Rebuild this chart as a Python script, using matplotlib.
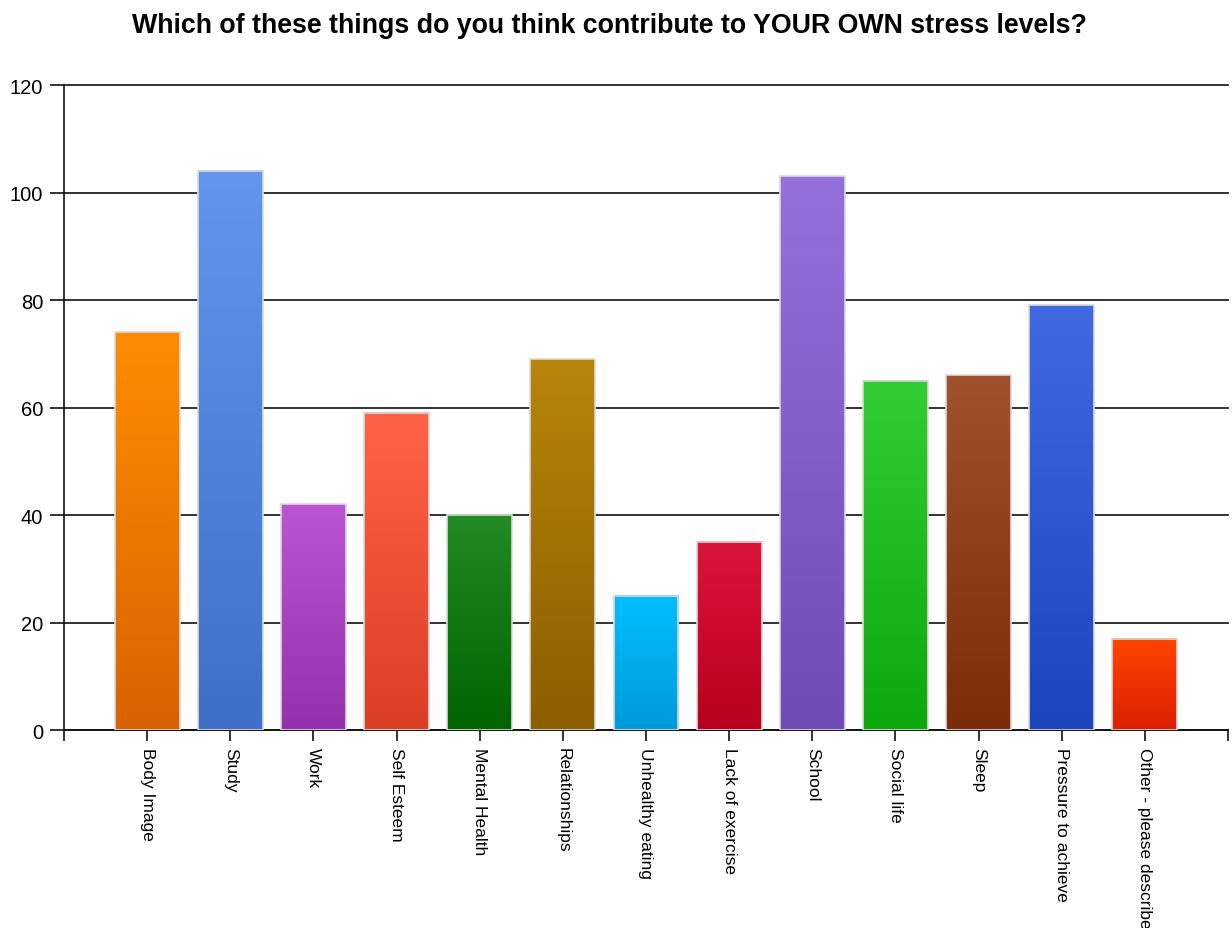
import numpy as np
import matplotlib.pyplot as plt
from matplotlib.colors import to_rgb

categories = ['Body Image', 'Study', 'Work', 'Self Esteem', 'Mental Health',
              'Relationships', 'Unhealthy eating', 'Lack of exercise', 'School',
              'Social life', 'Sleep', 'Pressure to achieve', 'Other - please describe']
values = [74, 104, 42, 59, 40, 69, 25, 35, 103, 65, 66, 79, 17]
top_colors = ['#FF8C00', '#6495ED', '#BA55D3', '#FF6347', '#228B22', '#B8860B',
              '#00BFFF', '#DC143C', '#9370DB', '#32CD32', '#A0522D', '#4169E1', '#FF4500']
bottom_colors = ['#D96200', '#3F6FC6', '#9530AE', '#D94025', '#006400', '#8B5E00',
                 '#009AD9', '#B8001E', '#6E4BB5', '#0DA80D', '#7A2D08', '#1C44BC', '#DA2000']
title = 'Which of these things do you think contribute to YOUR OWN stress levels?'

plt.rcParams['font.family'] = ['Liberation Sans', 'DejaVu Sans']

fig = plt.figure(figsize=(12.32, 9.29), dpi=100)
ax = fig.add_axes([0.0519, 0.2131, 0.9449, 0.6943])

x = np.arange(1, len(categories) + 1)
width = 0.78

# vertical gradient per bar, darker at the bottom
for xi, v, ct, cb in zip(x, values, top_colors, bottom_colors):
    grad = np.linspace(0, 1, 100)[:, None]
    c0 = np.array(to_rgb(cb))
    c1 = np.array(to_rgb(ct))
    img = (c0 + (c1 - c0) * grad)[:, None, :]
    ax.imshow(img, extent=[xi - width / 2, xi + width / 2, 0, v], origin='lower',
              aspect='auto', zorder=3, interpolation='bilinear')

ax.bar(x, values, width=width, fill=False, edgecolor='#DADADA', linewidth=1.2, zorder=4)

ax.set_xlim(0, len(categories) + 1)
ax.set_ylim(0, 120)
ax.set_yticks(range(0, 121, 20))
ax.yaxis.grid(True, color='#222222', linewidth=1.3, zorder=0)
ax.set_axisbelow(True)
for gl in ax.get_ygridlines():
    gl.set_clip_on(False)

ax.set_xticks(np.arange(0, len(categories) + 2))
ax.set_xticklabels([''] + categories + [''], rotation=270, fontsize=12.5, va='top', ha='center')

ax.tick_params(axis='both', direction='out', width=1.2, color='#111111')
ax.tick_params(axis='y', labelsize=14.5, pad=5, length=10)
ax.tick_params(axis='x', pad=4, length=8)

for s in ['top', 'right']:
    ax.spines[s].set_visible(False)
for s in ['left', 'bottom']:
    ax.spines[s].set_linewidth(1.2)
    ax.spines[s].set_color('#111111')

fig.text(0.495, 0.972, title, ha='center', va='center', fontsize=19.3, fontweight='bold')

fig.savefig('out.png', dpi=100)
